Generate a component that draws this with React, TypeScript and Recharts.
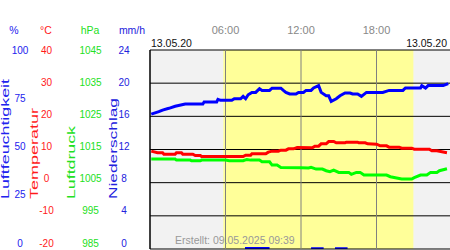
import {
  Area,
  ComposedChart,
  Line,
  ReferenceArea,
  ReferenceLine,
  XAxis,
  YAxis,
} from "recharts";

const FONT = "'Liberation Sans', Arial, sans-serif";
const PLOT_TOP = 50;

// hours since midnight and readings
const humidityHours = [
  0.1, 0.7, 1.0, 1.5, 2.0, 2.8, 4.2, 4.3, 5.3, 5.4, 5.6, 6.5, 6.7, 7.2, 7.4, 7.6, 7.8, 8.1, 8.4, 8.7,
  8.9, 9.5, 9.7, 10.4, 10.6, 10.8, 11.1, 11.6, 11.8, 12.2, 12.4, 12.8, 13.0, 13.4, 13.6, 14.0, 14.2,
  14.4, 14.8, 15.1, 15.5, 15.9, 16.1, 16.5, 16.8, 17.2, 18.5, 19.0, 20.1, 20.3, 21.5, 21.6, 21.9,
  22.1, 23.3, 23.7,
];
const humidityValues = [
  67.8, 69.0, 69.8, 70.7, 71.7, 72.9, 72.9, 73.9, 73.9, 75.2, 74.7, 74.7, 75.5, 75.5, 76.7, 75.5,
  77.5, 78.7, 78.7, 80.6, 79.7, 79.7, 80.8, 80.8, 79.7, 78.7, 77.9, 77.9, 78.7, 78.7, 79.7, 79.7,
  80.9, 82.1, 78.7, 77.0, 77.0, 74.2, 75.5, 77.0, 78.4, 78.4, 77.9, 77.9, 76.7, 78.7, 78.7, 79.7,
  79.7, 80.9, 80.9, 82.1, 80.9, 82.1, 82.1, 83.1,
];

const tempHours = [
  0.1, 0.6, 1.0, 1.1, 2.0, 2.1, 2.5, 2.6, 3.4, 3.6, 4.0, 4.1, 7.4, 7.6, 8.0, 8.1, 9.2, 9.4, 9.7,
  10.2, 10.4, 10.8, 11.0, 11.4, 11.7, 12.9, 13.1, 13.4, 13.6, 14.0, 14.2, 14.6, 14.8, 15.5, 15.6,
  16.5, 16.6, 17.1, 17.3, 18.0, 18.3, 18.8, 19.0, 19.8, 20.0, 20.8, 21.0, 22.2, 22.4, 22.8, 23.6,
];
const tempValues = [
  9.5, 9.0, 9.0, 8.6, 8.6, 9.0, 9.0, 8.6, 8.6, 8.2, 8.2, 7.9, 7.9, 8.3, 8.3, 8.7, 8.7, 9.2, 9.5, 9.5,
  9.8, 9.8, 10.2, 10.2, 10.6, 10.5, 11.0, 11.0, 11.7, 11.7, 12.4, 12.4, 12.0, 12.0, 12.2, 12.2, 12.0,
  12.0, 11.7, 11.6, 11.1, 11.1, 10.7, 10.7, 10.4, 10.4, 10.1, 10.1, 9.6, 9.6, 9.0,
];

const pressureHours = [
  0.1, 2.0, 2.1, 3.2, 3.3, 4.0, 4.1, 6.0, 6.3, 7.4, 7.7, 8.0, 8.7, 8.9, 9.5, 9.7, 10.1, 10.4, 12.0,
  12.6, 12.8, 13.2, 13.7, 14.0, 14.3, 14.6, 15.0, 15.8, 16.0, 16.4, 16.7, 17.0, 18.8, 19.1, 19.5,
  20.0, 20.8, 21.0, 21.5, 22.0, 22.3, 22.8, 23.0, 23.6,
];
const pressureValues = [
  1012.1, 1012.1, 1011.8, 1011.8, 1011.6, 1011.6, 1011.8, 1011.8, 1011.6, 1011.6, 1012.0, 1011.8,
  1011.8, 1011.3, 1011.3, 1010.3, 1010.3, 1009.6, 1009.5, 1009.4, 1009.6, 1009.1, 1009.1, 1008.6,
  1008.3, 1008.8, 1008.1, 1008.1, 1007.5, 1008.1, 1008.1, 1007.3, 1007.3, 1006.8, 1006.5, 1006.1,
  1006.1, 1006.5, 1007.3, 1007.3, 1008.1, 1008.1, 1008.6, 1009.2,
];

// precipitation steps: value holds from each hour until the next entry
const rainHours = [7.55, 9.5, 12.8, 13.8, 14.7, 15.7];
const rainValues = [0.25, 0, 0.2, 0, 0.2, 0];

const timeTicks = [6, 12, 18];
const timeLabels = ["06:00", "12:00", "18:00"];
const humidityTicks = [0, 25, 50, 75, 100];
const tempTicks = [-20, -10, 0, 10, 20, 30, 40];
const pressureTicks = [985, 995, 1005, 1015, 1025, 1035, 1045];
const rainTicks = [0, 4, 8, 12, 16, 20, 24];

const dayLabel = "13.05.20";
const createdLabel = "Erstellt: 09.05.2025 09:39";
const sunrise = 5.83;
const sunset = 20.93;

type Row = { t: number; hum?: number; temp?: number; press?: number; rain?: number };
const rowMap = new Map<number, Row>();
const put = (hours: number[], values: number[], key: "hum" | "temp" | "press" | "rain") =>
  hours.forEach((t, i) => {
    const r = rowMap.get(t) ?? { t };
    r[key] = values[i];
    rowMap.set(t, r);
  });
put(humidityHours, humidityValues, "hum");
put(tempHours, tempValues, "temp");
put(pressureHours, pressureValues, "press");
put(rainHours, rainValues, "rain");
const data = [...rowMap.values()].sort((a, b) => a.t - b.t);

// tick columns are fixed; the four axes share the 150px left margin
const axes = [
  { id: "hum", unit: "%", title: "Luftfeuchtigkeit", color: "#2222ee", domain: [0, 100], ticks: humidityTicks, tickX: 20, unitX: 14, titleX: 8.5, titleLen: 120 },
  { id: "temp", unit: "°C", title: "Temperatur", color: "#ff1a1a", domain: [-20, 40], ticks: tempTicks, tickX: 46.5, unitX: 46, titleX: 37.5, titleLen: 91 },
  { id: "press", unit: "hPa", title: "Luftdruck", color: "#22e022", domain: [985, 1045], ticks: pressureTicks, tickX: 90.5, unitX: 90, titleX: 75, titleLen: 73 },
  { id: "rain", unit: "mm/h", title: "Niederschlag", color: "#2222dd", domain: [0, 24], ticks: rainTicks, tickX: 124, unitX: 132, titleX: 116.5, titleLen: 101 },
];

const makeTick = (a: (typeof axes)[number]) => (props: any) => {
  const { y, payload } = props;
  const ly = PLOT_TOP + (y - PLOT_TOP) * 0.97;
  return (
    <text x={a.tickX} y={ly} dy="0.35em" textAnchor="middle" fill={a.color} fontSize={10} fontFamily={FONT}>
      {payload.value}
    </text>
  );
};

const axisLabel = (a: (typeof axes)[number]) => () => (
  <g fontFamily={FONT} fill={a.color}>
    <text x={a.unitX} y={34} textAnchor="middle" fontSize={10.5}>
      {a.unit}
    </text>
    <text
      x={a.titleX}
      y={199}
      transform={`rotate(-90 ${a.titleX} 199)`}
      fontSize={10}
      textLength={a.titleLen}
      lengthAdjust="spacingAndGlyphs"
    >
      {a.title}
    </text>
  </g>
);

const timeTick = (props: any) => {
  const { x, payload } = props;
  return (
    <text x={x} y={34} textAnchor="middle" fill="#888" fontSize={11} fontFamily={FONT}>
      {timeLabels[timeTicks.indexOf(payload.value)]}
    </text>
  );
};

const topTexts = () => (
  <g fontFamily={FONT} fontSize={10.5}>
    <text x={151} y={47} fill="#111">
      {dayLabel}
    </text>
    <text x={447} y={47} fill="#111" textAnchor="end">
      {dayLabel}
    </text>
    <text x={175} y={244} fill="#999">
      {createdLabel}
    </text>
  </g>
);

export default function App() {
  return (
    <div style={{ position: "absolute", left: 0, top: 0, width: 450, height: 250, overflow: "hidden", background: "#fff" }}>
      <ComposedChart width={452} height={250} data={data} margin={{ top: 0, right: 0, bottom: 1, left: 0 }}>
        <XAxis
          type="number"
          dataKey="t"
          domain={[0, 24]}
          ticks={timeTicks}
          orientation="top"
          height={50}
          axisLine={false}
          tickLine={false}
          tickSize={0}
          tickMargin={16}
          tick={timeTick}
          label={topTexts}
        />
        {axes.map((a) => (
          <YAxis
            key={a.id}
            yAxisId={a.id}
            type="number"
            domain={a.domain}
            ticks={a.ticks}
            interval={0}
            width={37.5}
            axisLine={false}
            tickLine={false}
            tickSize={0}
            tick={makeTick(a)}
            label={axisLabel(a)}
          />
        ))}
        <ReferenceArea yAxisId="rain" x1={0} x2={24} fill="#f2f2f2" fillOpacity={1} />
        <ReferenceArea yAxisId="rain" x1={sunrise} x2={sunset} fill="#ffff99" fillOpacity={1} />
        {rainTicks.map((v) => (
          <ReferenceLine key={"h" + v} yAxisId="rain" y={v} stroke="#000" strokeWidth={1} />
        ))}
        {timeTicks.map((v) => (
          <ReferenceLine key={"v" + v} yAxisId="rain" x={v} stroke="#808080" strokeWidth={1} />
        ))}
        <ReferenceLine yAxisId="rain" x={0} stroke="#000" strokeWidth={1.5} />
        <Area
          yAxisId="rain"
          dataKey="rain"
          type="stepAfter"
          stroke="none"
          fill="#0000ff"
          fillOpacity={1}
          connectNulls
          isAnimationActive={false}
        />
        <Line yAxisId="press" dataKey="press" stroke="#00ff00" strokeWidth={3} dot={false} connectNulls isAnimationActive={false} />
        <Line yAxisId="temp" dataKey="temp" stroke="#ff0000" strokeWidth={3} dot={false} connectNulls isAnimationActive={false} />
        <Line yAxisId="hum" dataKey="hum" stroke="#0000ff" strokeWidth={3} dot={false} connectNulls isAnimationActive={false} />
      </ComposedChart>
    </div>
  );
}
